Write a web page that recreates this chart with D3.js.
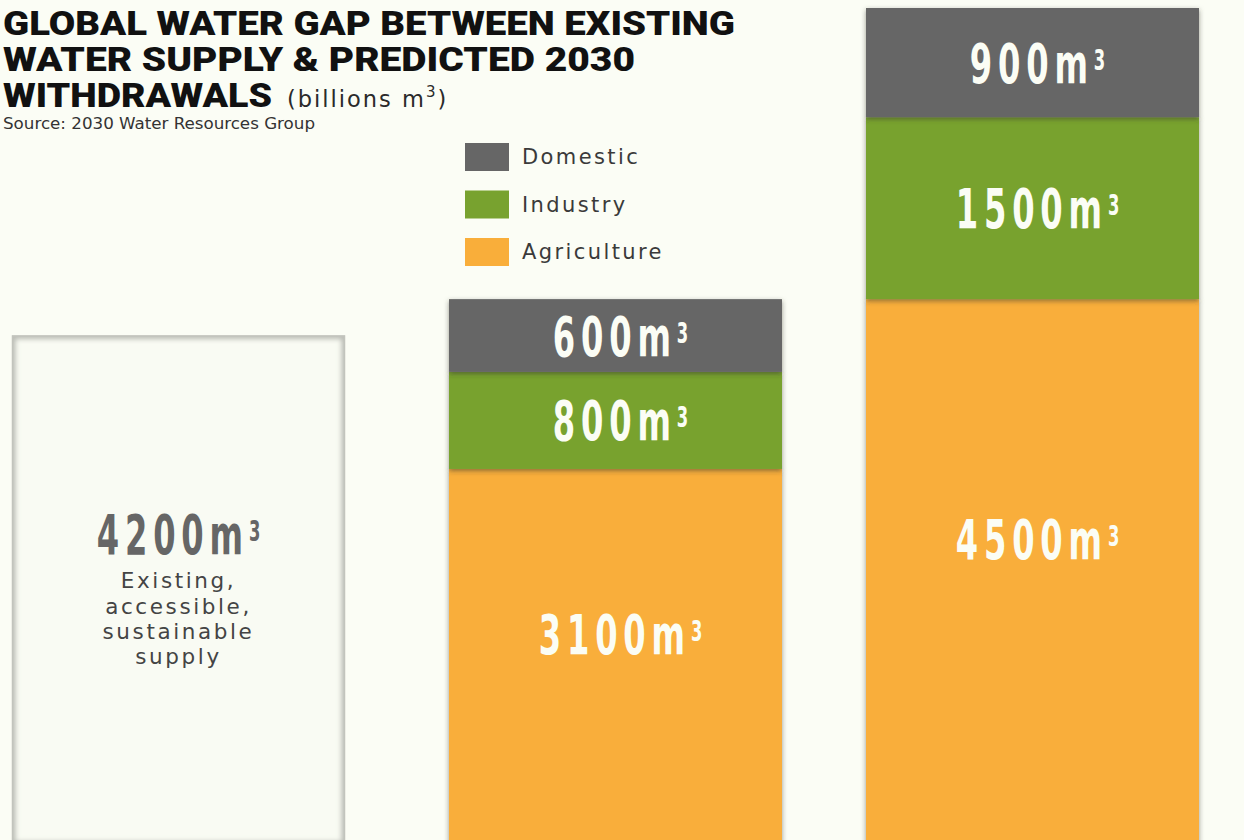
<!DOCTYPE html>
<html>
<head>
<meta charset="utf-8">
<script src="https://cdn.jsdelivr.net/npm/d3@7"></script>
<style>
  html, body { margin: 0; padding: 0; background: #fbfdf5; }
  svg { display: block; }
</style>
</head>
<body>
<svg id="chart" width="1244" height="840"></svg>
<script>
// Global water supply vs. withdrawals (billions m3)
const categories = ["Existing supply", "Today", "2030"];
const supply = [4200, 0, 0];
const agriculture = [0, 3100, 4500];
const industry = [0, 800, 1500];
const domestic = [0, 600, 900];
const sectorKeys = ["agriculture", "industry", "domestic"];
const legendLabels = ["Domestic", "Industry", "Agriculture"];
const legendKeys = ["domestic", "industry", "agriculture"];
const supplyNote = ["Existing,", "accessible,", "sustainable", "supply"];
const titleLines = ["GLOBAL WATER GAP BETWEEN EXISTING", "WATER SUPPLY & PREDICTED 2030", "WITHDRAWALS"];
const unitLabel = "(billions m";
const sourceLabel = "Source: 2030 Water Resources Group";

const colors = { domestic: "#666666", industry: "#78a22f", agriculture: "#f9ae3a" };
const bg = "#fbfdf5";
const valueFont = "'DejaVu Sans Condensed', 'DejaVu Sans', sans-serif";
const bodyFont = "'DejaVu Sans', sans-serif";

const svg = d3.select("#chart");
const W = 1244, H = 840;
svg.append("rect").attr("width", W).attr("height", H).attr("fill", bg);

const defs = svg.append("defs");
const shadow = defs.append("filter").attr("id", "segShadow")
  .attr("x", "-10%").attr("y", "-10%").attr("width", "120%").attr("height", "120%");
shadow.append("feDropShadow").attr("dx", 0).attr("dy", 2).attr("stdDeviation", 2.6)
  .attr("flood-color", "#3a3a30").attr("flood-opacity", 0.55);
const innerBlur = defs.append("filter").attr("id", "innerBlur");
innerBlur.append("feGaussianBlur").attr("stdDeviation", 2.5);

// scales
const y = d3.scaleLinear().domain([0, 6900]).range([845, 8]);
const x = d3.scaleOrdinal().domain(categories).range([12, 449, 866]);
const barW = 333;

// tall condensed value label: "<n>m" with a superscript 3
function valueLabel(parent, cx, cy, value, fill) {
  const g = parent.append("g")
    .attr("transform", `translate(${cx},${cy + 20}) scale(0.65,1)`);
  const t = g.append("text")
    .attr("text-anchor", "middle").attr("fill", fill)
    .attr("font-family", valueFont).attr("font-weight", "bold").attr("font-size", 55);
  t.append("tspan").attr("letter-spacing", 9).text(value + "m");
  t.append("tspan").attr("dy", -13).attr("font-size", 28).attr("dx", 0).text("3");
  return g;
}

// rows for the stacked withdrawal bars
const rows = categories.map((c, i) => ({
  category: c, agriculture: agriculture[i], industry: industry[i], domestic: domestic[i]
})).filter(r => r.agriculture + r.industry + r.domestic > 0);
const series = d3.stack().keys(sectorKeys)(rows);

// supply bar (outlined box with inner shading)
const supplyRows = categories.map((c, i) => ({ category: c, value: supply[i] })).filter(d => d.value > 0);
supplyRows.forEach((d, i) => {
  const g = svg.append("g");
  const x0 = x(d.category), y0 = y(d.value), h = y(0) - y(d.value);
  const clipId = "supplyClip" + i;
  defs.append("clipPath").attr("id", clipId)
    .append("rect").attr("x", x0).attr("y", y0).attr("width", barW).attr("height", h);
  g.append("rect").attr("x", x0).attr("y", y0).attr("width", barW).attr("height", h)
    .attr("fill", "#f9fbf3");
  g.append("rect").attr("x", x0).attr("y", y0).attr("width", barW).attr("height", h)
    .attr("fill", "none").attr("stroke", "#b9bbb4").attr("stroke-width", 7)
    .attr("filter", "url(#innerBlur)").attr("clip-path", `url(#${clipId})`);
  g.append("rect").attr("x", x0 + 0.5).attr("y", y0 + 0.5).attr("width", barW - 1).attr("height", h)
    .attr("fill", "none").attr("stroke", "#c2c4bd").attr("stroke-width", 1.5);

  const cx = x0 + barW / 2;
  const cy = y(d.value * 0.61);
  valueLabel(g, cx, cy, d.value, "#666666");

  g.selectAll("text.note").data(supplyNote).join("text").attr("class", "note")
    .attr("x", cx).attr("y", (s, j) => cy + 54 + j * 25.3)
    .attr("text-anchor", "middle").attr("fill", "#444444")
    .attr("font-family", bodyFont).attr("font-size", 21.5).attr("letter-spacing", 2.6)
    .text(s => s);
});

// stacked withdrawal bars; upper segments drawn last so their shadows fall on the ones below
const labelFrac = { agriculture: 0.56, industry: 0.5, domestic: 0.5 };
series.forEach(s => {
  const g = svg.append("g").attr("class", "layer-" + s.key);
  g.selectAll("rect").data(s).join("rect")
    .attr("x", d => x(d.data.category))
    .attr("y", d => y(d[1]))
    .attr("width", barW)
    .attr("height", d => y(d[0]) - y(d[1]))
    .attr("fill", colors[s.key])
    .attr("filter", "url(#segShadow)");
});
series.forEach(s => {
  s.forEach(d => {
    const v = d[1] - d[0];
    const cy = y(d[0] + v * labelFrac[s.key]);
    valueLabel(svg, x(d.data.category) + barW / 2 + 5, cy, v, "#fbfdf5");
  });
});

// title
const title = svg.append("g");
const titleWidths = [732, 632, 269];
title.selectAll("text").data(titleLines).join("text")
  .attr("x", 3).attr("y", (d, i) => 35 + i * 36)
  .attr("font-family", "Roboto, 'DejaVu Sans', sans-serif").attr("font-weight", 900)
  .attr("font-size", 33).attr("fill", "#111111")
  .attr("textLength", (d, i) => titleWidths[i]).attr("lengthAdjust", "spacingAndGlyphs")
  .text(d => d);
const unit = title.append("text").attr("x", 287).attr("y", 107)
  .attr("font-family", bodyFont).attr("font-size", 22.5).attr("fill", "#2a2a2a")
  .attr("letter-spacing", 2);
unit.append("tspan").text(unitLabel);
unit.append("tspan").attr("dy", -10).attr("font-size", 15).text("3");
unit.append("tspan").attr("dy", 10).text(")");
title.append("text").attr("x", 3).attr("y", 129)
  .attr("font-family", "'DejaVu Sans Condensed', sans-serif")
  .attr("font-size", 15).attr("fill", "#333333")
  .attr("textLength", 312).attr("lengthAdjust", "spacingAndGlyphs")
  .text(sourceLabel);

// legend
const legend = svg.append("g").attr("transform", "translate(465,143)");
const li = legend.selectAll("g").data(legendKeys).join("g")
  .attr("transform", (d, i) => `translate(0,${i * 47.5})`);
li.append("rect").attr("width", 44).attr("height", 28).attr("fill", d => colors[d]);
li.append("text").attr("x", 57).attr("y", 21)
  .attr("font-family", bodyFont).attr("font-size", 21).attr("letter-spacing", 2.4)
  .attr("fill", "#3a3a3a")
  .text((d, i) => legendLabels[i]);
</script>
</body>
</html>
